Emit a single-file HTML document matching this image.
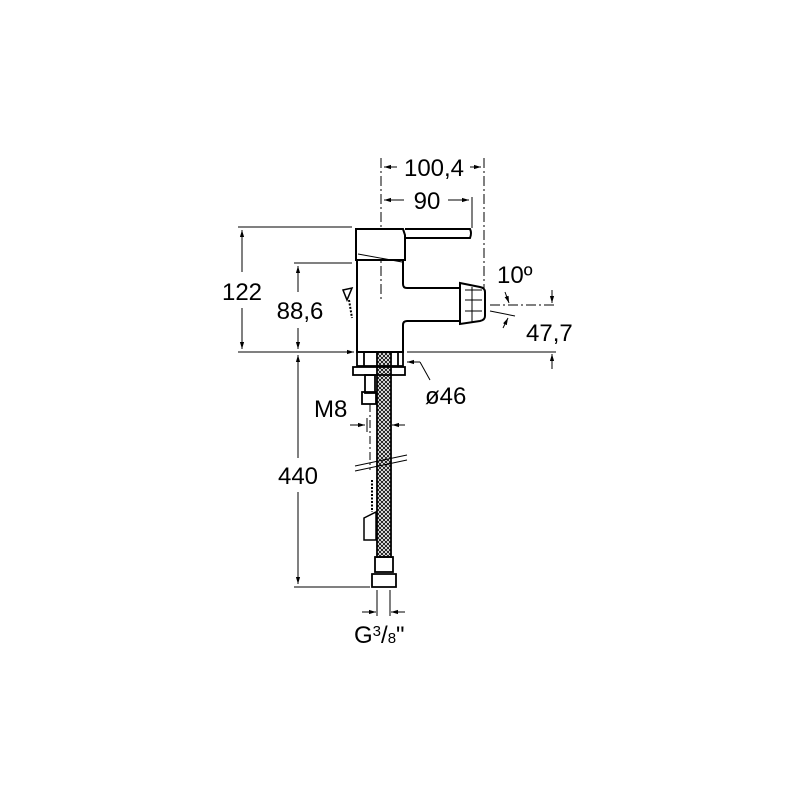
<!DOCTYPE html>
<html><head><style>body{margin:0;background:#fff}svg{display:block}text{font-family:"Liberation Sans",sans-serif;fill:#000}</style></head>
<body>
<svg width="800" height="800" viewBox="0 0 800 800" xmlns="http://www.w3.org/2000/svg">
<defs>
<marker id="a" viewBox="0 0 10 10" refX="10" refY="5" markerWidth="7" markerHeight="7" orient="auto-start-reverse"><path d="M0,2 L10,5 L0,8 z" fill="#000"/></marker>
<pattern id="h" width="4" height="4" patternUnits="userSpaceOnUse"><path d="M0,0 L4,4 M4,0 L0,4" stroke="#000" stroke-width="0.8"/></pattern>
</defs>
<g stroke="#000" fill="none" stroke-width="1">
<line x1="238" y1="227" x2="352" y2="227"/>
<line x1="294" y1="263" x2="352" y2="263"/>
<line x1="238" y1="352" x2="354" y2="352"/>
<line x1="407" y1="352" x2="556" y2="352"/>
<line x1="294" y1="587" x2="370" y2="587"/>
<line x1="242" y1="230" x2="242" y2="272" marker-start="url(#a)"/>
<line x1="242" y1="308" x2="242" y2="349" marker-end="url(#a)"/>
<line x1="298" y1="266" x2="298" y2="292" marker-start="url(#a)"/>
<line x1="298" y1="328" x2="298" y2="349" marker-end="url(#a)"/>
<line x1="298" y1="355" x2="298" y2="458" marker-start="url(#a)"/>
<line x1="298" y1="492" x2="298" y2="584" marker-end="url(#a)"/>
<line x1="381" y1="158" x2="381" y2="300" stroke-dasharray="10,3,2,3"/>
<line x1="484" y1="158" x2="484" y2="290" stroke-dasharray="10,3,2,3"/>
<line x1="472" y1="197" x2="472" y2="228"/>
<line x1="384" y1="167" x2="397" y2="167" marker-start="url(#a)"/>
<line x1="470" y1="167" x2="481" y2="167" marker-end="url(#a)"/>
<line x1="384" y1="200" x2="404" y2="200" marker-start="url(#a)"/>
<line x1="448" y1="200" x2="469" y2="200" marker-end="url(#a)"/>
<line x1="490" y1="305" x2="556" y2="305" stroke-dasharray="10,3,2,3"/>
<line x1="552" y1="290" x2="552" y2="303" marker-end="url(#a)"/>
<line x1="552" y1="369" x2="552" y2="354" marker-end="url(#a)"/>
<line x1="490" y1="311" x2="515" y2="316"/>
<line x1="505" y1="292" x2="509" y2="303" marker-end="url(#a)"/>
<line x1="503" y1="328" x2="508" y2="318" marker-end="url(#a)"/>
<g stroke-width="2">
<path d="M356,229 L403,229 L405,235 L405,260 L356,260 Z" fill="#fff"/>
<path d="M405,229 L470,229 Q472,233 470,238 L405,238"/>
<path d="M357,260 L357,352 L403,352 L403,325 Q403,321 407,321 L460,321 L460,288 L407,288 Q403,288 403,284 L403,260"/>
<path d="M460,283 L480,287 Q485,288 485,292 L485,316 Q485,320 480,321 L460,324 Z" fill="#fff"/>
</g>
<line x1="465" y1="290" x2="482" y2="290"/><line x1="465" y1="300" x2="482" y2="300"/><line x1="465" y1="311" x2="482" y2="311"/>
<line x1="472" y1="287" x2="472" y2="322"/>
<line x1="358" y1="254" x2="402" y2="262"/>
<path d="M343,290 L352,288 L347,300 Z" stroke-width="1.5"/>
<path d="M349,300 L352,318" stroke-dasharray="2,1.5" stroke-width="2"/>
<g stroke-width="1.8">
<rect x="357" y="352" width="46" height="14"/>
<line x1="364" y1="352" x2="364" y2="366"/><line x1="398" y1="352" x2="398" y2="366"/>
<rect x="353" y="367" width="52" height="8"/>
<rect x="365" y="375" width="10" height="18"/>
<rect x="362" y="392" width="14" height="12"/>
<rect x="377" y="352" width="14" height="205" fill="url(#h)"/>
<rect x="375" y="557" width="18" height="15"/>
<path d="M372,574 L396,574 L396,587 L372,587 Z"/>
</g>
<line x1="370" y1="404" x2="370" y2="470" stroke-dasharray="8,3,2,3"/>
<line x1="355" y1="466" x2="407" y2="455"/>
<line x1="355" y1="471" x2="407" y2="460"/>
<path d="M372,480 L372,512" stroke-dasharray="2,1.5" stroke-width="2"/>
<path d="M364,518 L376,512 L376,540 L364,540 Z" stroke-width="1.5"/>
<line x1="350" y1="425" x2="365" y2="425" marker-end="url(#a)"/>
<line x1="405" y1="425" x2="392" y2="425" marker-end="url(#a)"/>
<line x1="367" y1="418" x2="367" y2="432"/>
<line x1="338" y1="352" x2="354" y2="352" marker-end="url(#a)"/>
<line x1="420" y1="362" x2="407" y2="362" marker-end="url(#a)"/>
<line x1="420" y1="362" x2="430" y2="380"/>
<line x1="377" y1="590" x2="377" y2="616"/><line x1="390" y1="590" x2="390" y2="616"/>
<line x1="362" y1="612" x2="376" y2="612" marker-end="url(#a)"/>
<line x1="405" y1="612" x2="391" y2="612" marker-end="url(#a)"/>
</g>
<g font-size="24">
<text x="242" y="300" text-anchor="middle">122</text>
<text x="300" y="319" text-anchor="middle">88,6</text>
<text x="298" y="484" text-anchor="middle">440</text>
<text x="434" y="176" text-anchor="middle">100,4</text>
<text x="427" y="209" text-anchor="middle">90</text>
<text x="497" y="283">10º</text>
<text x="526" y="341">47,7</text>
<text x="425" y="404">ø46</text>
<text x="314" y="417">M8</text>
<text x="354" y="643">G<tspan font-size="15" dy="-7">3</tspan><tspan dy="7">/</tspan><tspan font-size="15">8</tspan>"</text>
</g>
</svg>
</body></html>
